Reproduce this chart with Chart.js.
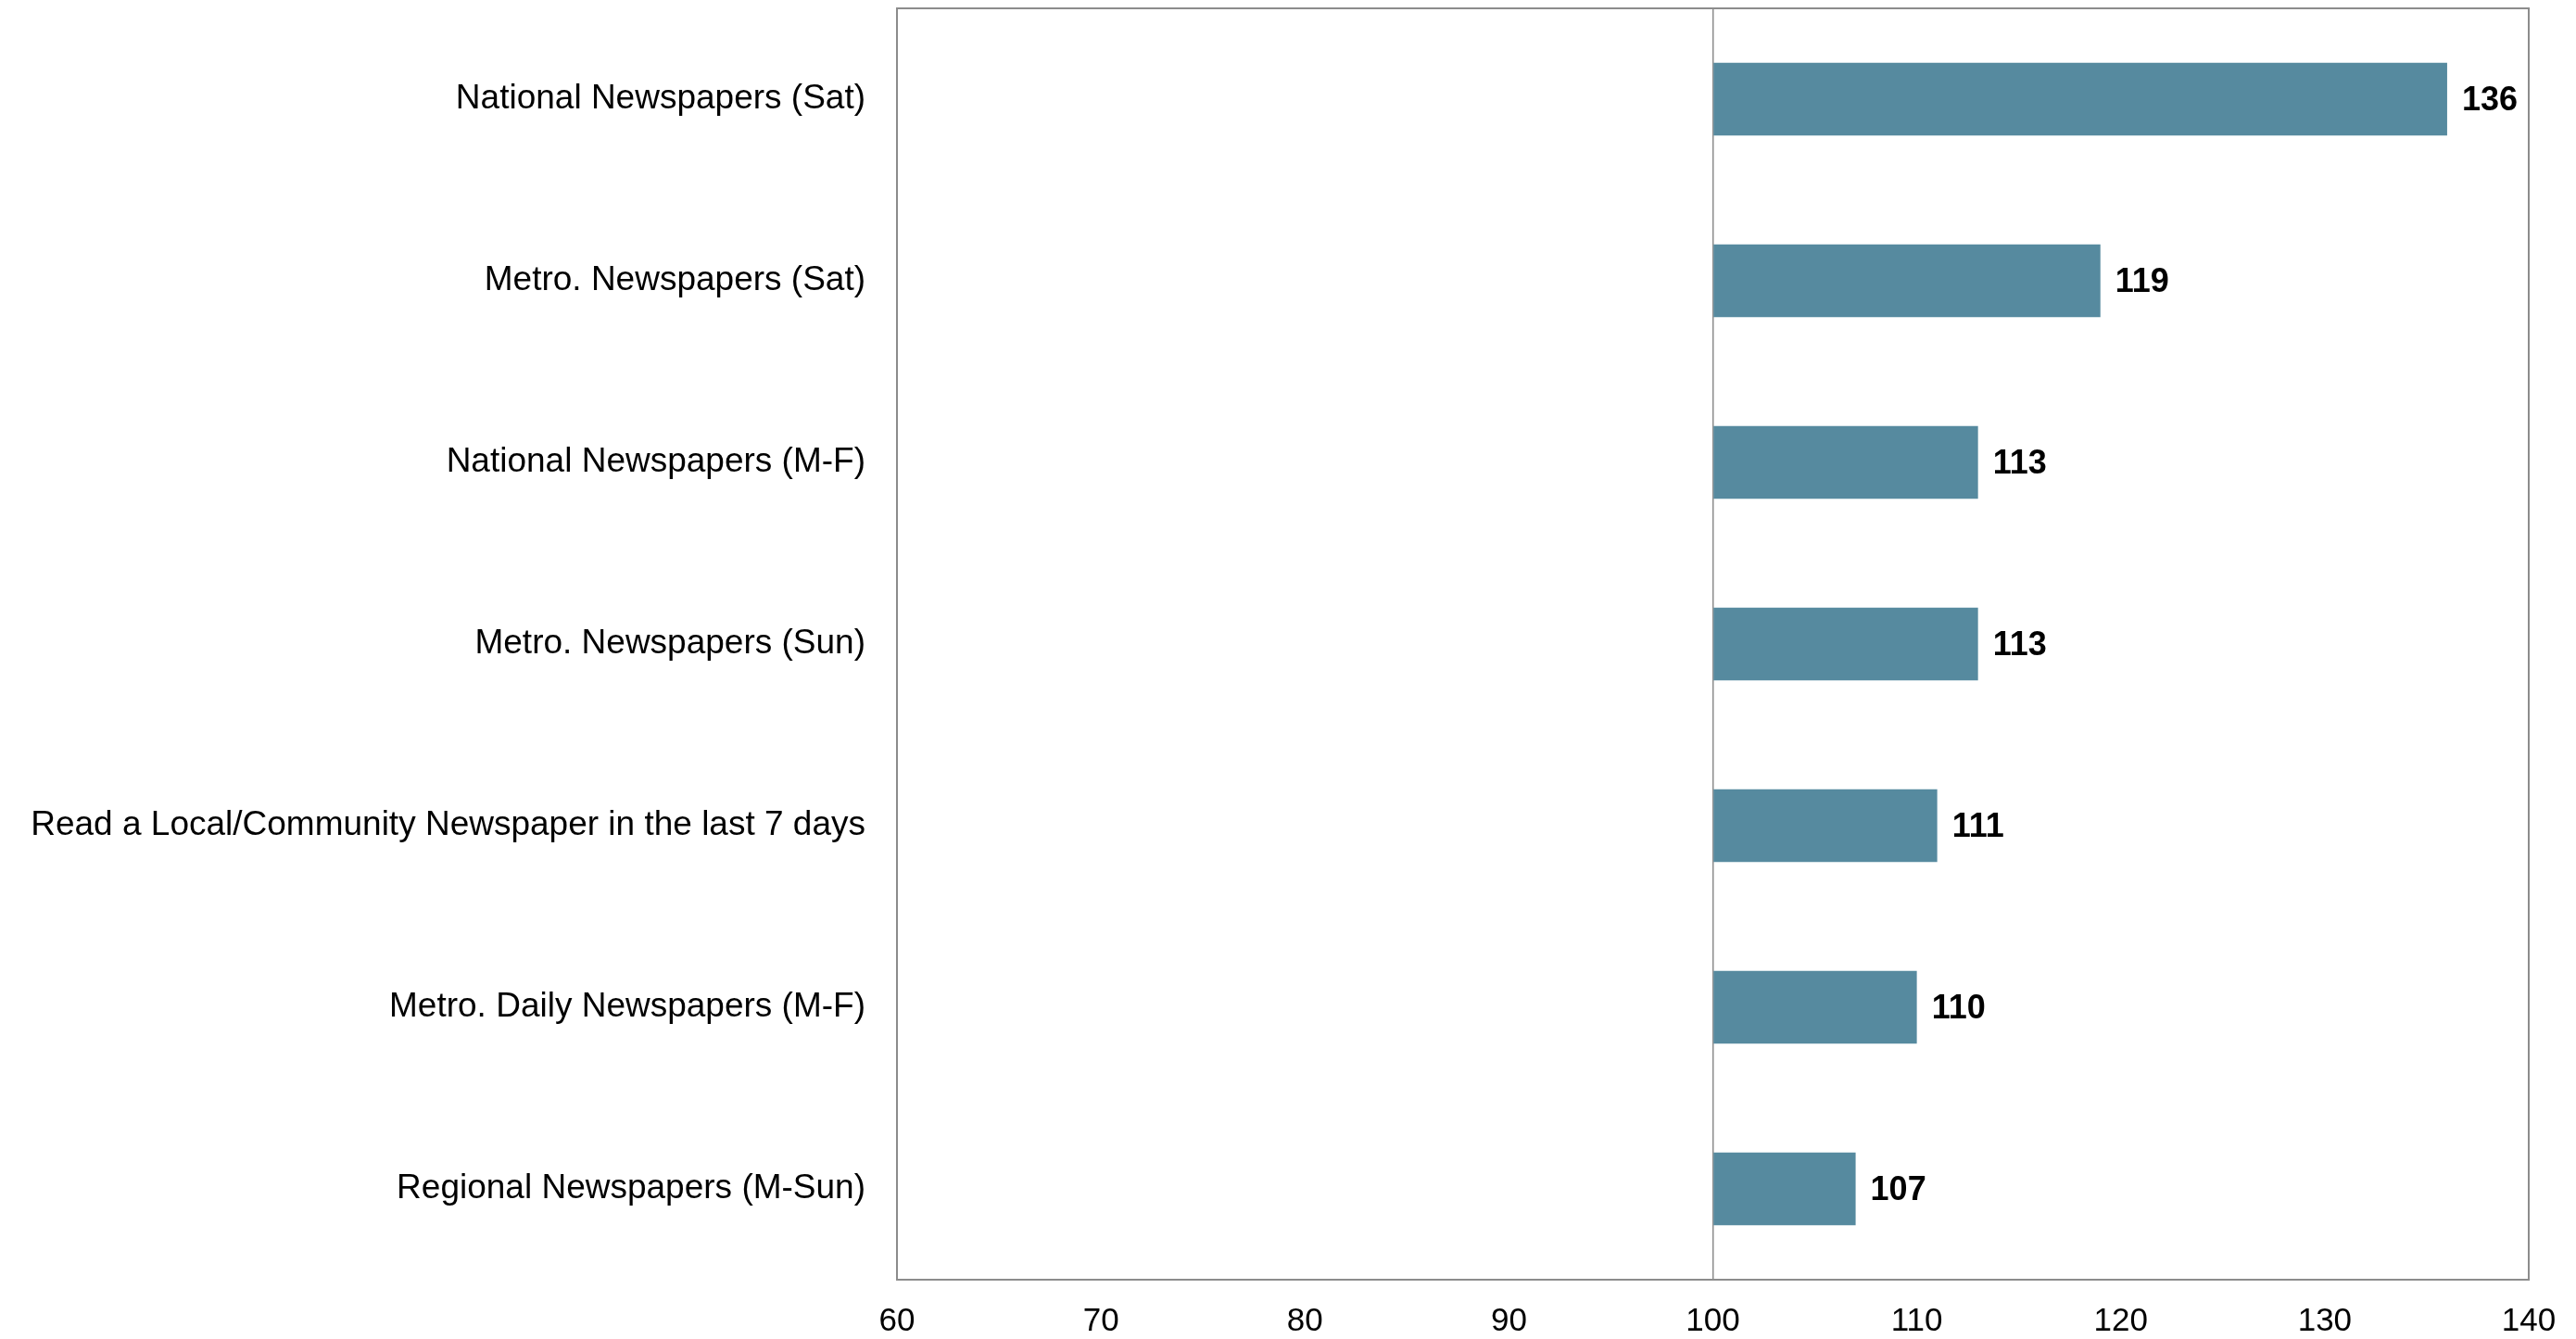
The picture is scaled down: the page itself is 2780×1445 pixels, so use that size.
<!DOCTYPE html>
<html>
<head>
<meta charset="utf-8">
<script src="https://cdn.jsdelivr.net/npm/chart.js@4.4.1/dist/chart.umd.min.js"></script>
<style>
  html,body{margin:0;padding:0;background:#fff;}
  #wrap{width:2780px;height:1445px;position:relative;}
</style>
</head>
<body>
<div id="wrap"><canvas id="c" width="2780" height="1445"></canvas></div>
<script>
const categories = [
  "National Newspapers (Sat)",
  "Metro. Newspapers (Sat)",
  "National Newspapers (M-F)",
  "Metro. Newspapers (Sun)",
  "Read a Local/Community Newspaper in the last 7 days",
  "Metro. Daily Newspapers (M-F)",
  "Regional Newspapers (M-Sun)"
];
const indexValues = [136, 119, 113, 113, 111, 110, 107];
const baseLine = 100;
const xTicks = [60, 70, 80, 90, 100, 110, 120, 130, 140];

const FONT = "'Liberation Sans', Arial, sans-serif";
const BAR = "#568A9F";
const FRAME = "#8c8c8c";

// frame round the plot area
const framePlugin = {
  id: "frame",
  afterDatasetsDraw(chart){
    const a = chart.chartArea, ctx = chart.ctx;
    ctx.save();
    ctx.strokeStyle = FRAME;
    ctx.lineWidth = 2;
    ctx.strokeRect(a.left, a.top, a.right - a.left, a.bottom - a.top);
    ctx.restore();
  }
};

// value labels to the right of each bar
const valuePlugin = {
  id: "values",
  afterDatasetsDraw(chart){
    const ctx = chart.ctx;
    const meta = chart.getDatasetMeta(0);
    ctx.save();
    ctx.font = "bold 36px " + FONT;
    ctx.fillStyle = "#000";
    ctx.textBaseline = "middle";
    ctx.textAlign = "left";
    meta.data.forEach((el, i) => {
      ctx.fillText(String(indexValues[i]), el.x + 16, el.y + 2);
    });
    ctx.restore();
  }
};

new Chart(document.getElementById("c"), {
  type: "bar",
  data: {
    labels: categories,
    datasets: [{
      data: indexValues,
      base: baseLine,
      backgroundColor: BAR,
      borderWidth: 0,
      barPercentage: 0.4,
      categoryPercentage: 1.0
    }]
  },
  options: {
    indexAxis: "y",
    responsive: false,
    animation: false,
    layout: { padding: { top: 9, right: 51, left: 0, bottom: 0 } },
    plugins: { legend: { display: false }, tooltip: { enabled: false } },
    scales: {
      x: {
        min: 60, max: 140,
        afterBuildTicks(scale){ scale.ticks = xTicks.map(v => ({ value: v })); },
        afterFit(scale){ scale.height = 64; scale.paddingLeft = 0; scale.paddingRight = 0; },
        border: { display: false },
        grid: {
          drawTicks: false,
          lineWidth: 1.5,
          color: (c) => (c.tick && c.tick.value === baseLine) ? FRAME : "rgba(0,0,0,0)"
        },
        ticks: { padding: 24, color: "#000", font: { family: FONT, size: 35 }, maxRotation: 0 }
      },
      y: {
        afterFit(scale){ scale.width = 968; scale.paddingTop = 0; scale.paddingBottom = 0; },
        border: { display: false },
        grid: { display: false, drawTicks: false },
        ticks: { padding: 34, color: "#000", font: { family: FONT, size: 37 } }
      }
    }
  },
  plugins: [framePlugin, valuePlugin]
});
</script>
</body>
</html>
